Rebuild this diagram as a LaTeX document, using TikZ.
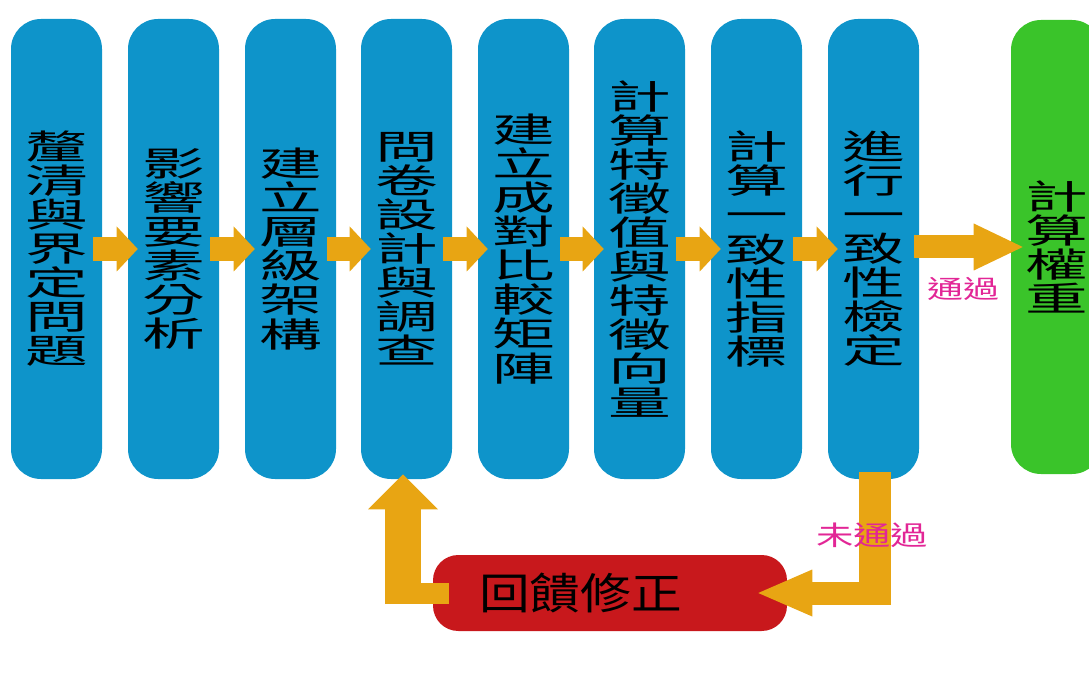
\documentclass[tikz,border=0pt]{standalone}
\usepackage{fontspec}
\setmainfont{Noto Sans CJK TC}
\usepackage{graphicx}
\usetikzlibrary{arrows.meta}

\definecolor{stepblue}{RGB}{14,148,202}
\definecolor{flowor}{RGB}{232,165,19}
\definecolor{resgreen}{RGB}{58,196,42}
\definecolor{fixred}{RGB}{200,24,28}
\definecolor{tagpink}{RGB}{226,38,150}

% stacked, vertically squeezed column text
\newcommand{\colt}[2][0.543]{\scalebox{1}[#1]{\vbox{\let\\\cr\baselineskip=47pt\lineskiplimit=-100pt\lineskip=0pt
  \halign{\hfil##\hfil\cr#2\crcr}}}}

\begin{document}
\begin{tikzpicture}[x=0.75pt,y=0.75pt,yscale=-1,xscale=1,
  colbox/.style={fill=stepblue, rounded corners=22.5pt, minimum width=68.25pt, minimum height=345pt, inner sep=0pt, font=\fontsize{47}{47}\selectfont},
  fixbox/.style={fill=fixred, rounded corners=19pt, minimum width=265.5pt, minimum height=57pt, inner sep=0pt},
  flow/.style n args={3}{draw=flowor, line width=#1, -{Triangle[width=#2,length=#3,line width=0pt]}},
  stub/.style={draw=flowor, line width=#1},
  tag/.style={text=tagpink, inner sep=0pt}]
\clip (0,0) rectangle (1089,677);

% Steps
\node[colbox] (c1) at (56.5,249) {\colt{釐\\清\\與\\界\\定\\問\\題}};
\node[colbox] (c2) at (173.5,249) {\colt{影\\響\\要\\素\\分\\析}};
\node[colbox] (c3) at (290.5,249) {\colt{建\\立\\層\\級\\架\\構}};
\node[colbox] (c4) at (406.5,249) {\colt{問\\卷\\設\\計\\與\\調\\查}};
\node[colbox] (c5) at (523.5,249) {\colt{建\\立\\成\\對\\比\\較\\矩\\陣}};
\node[colbox] (c6) at (639.5,249) {\colt{計\\算\\特\\徵\\值\\與\\特\\徵\\向\\量}};
\node[colbox] (c7) at (756.5,249) {\colt{計\\算\\一\\致\\性\\指\\標}};
\node[colbox] (c8) at (873.5,249) {\colt{進\\行\\一\\致\\性\\檢\\定}};
% Result
\node[colbox, fill=resgreen, minimum height=340.5pt] (res) at (1056.5,247) {\colt{計\\算\\權\\重}};
% Feedback
\node[fixbox] (fix) at (610,593) {};
\node[inner sep=0pt, font=\fontsize{38}{38}\selectfont] (fixt) at (580.5,593) {\scalebox{1}[0.85]{回饋修正}};

% Step arrows
\draw[flow={18pt}{33.75pt}{15.75pt}] ([xshift=-6.75pt]c1.east) -- ([xshift=7.5pt]c2.west);
\draw[flow={18pt}{33.75pt}{15.75pt}] ([xshift=-6.75pt]c2.east) -- ([xshift=7.5pt]c3.west);
\draw[flow={18pt}{33.75pt}{15.75pt}] ([xshift=-6.75pt]c3.east) -- ([xshift=7.5pt]c4.west);
\draw[flow={18pt}{33.75pt}{15.75pt}] ([xshift=-6.75pt]c4.east) -- ([xshift=7.5pt]c5.west);
\draw[flow={18pt}{33.75pt}{15.75pt}] ([xshift=-6.75pt]c5.east) -- ([xshift=7.5pt]c6.west);
\draw[flow={18pt}{33.75pt}{15.75pt}] ([xshift=-6.75pt]c6.east) -- ([xshift=7.5pt]c7.west);
\draw[flow={18pt}{33.75pt}{15.75pt}] ([xshift=-6.75pt]c7.east) -- ([xshift=7.5pt]c8.west);
% Pass
\draw[flow={17.25pt}{35.25pt}{36.75pt}] ([xshift=-3.75pt]c8.east |- res.west) -- ([xshift=9pt]res.west);

% Fail loop (yshift runs downwards here, since yscale=-1)
\coordinate (fb) at (875,593);
\coordinate (fa) at (403,593);
\draw[stub=24pt] ([yshift=-5.25pt]c8.south -| fb) -- ([yshift=9pt]fb);
\draw[flow={17.25pt}{35.25pt}{40.5pt}] ([xshift=12pt]fb) -- ([xshift=-21.75pt]fix.east);
\draw[stub=15.75pt] ([xshift=12pt]fix.west) -- ([xshift=-13.5pt]fa);
\draw[flow={27pt}{52.5pt}{26.25pt}] ([yshift=8.25pt]fa) -- ([yshift=-3.75pt]c4.south -| fa);

% Labels
\node[tag, font=\fontsize{27}{27}\selectfont] (ok) at (963,289) {\scalebox{1}[0.7]{通過}};
\node[tag, font=\fontsize{28}{28}\selectfont] (nok) at (872,535) {\scalebox{1}[0.72]{未通過}};

\end{tikzpicture}
\end{document}
